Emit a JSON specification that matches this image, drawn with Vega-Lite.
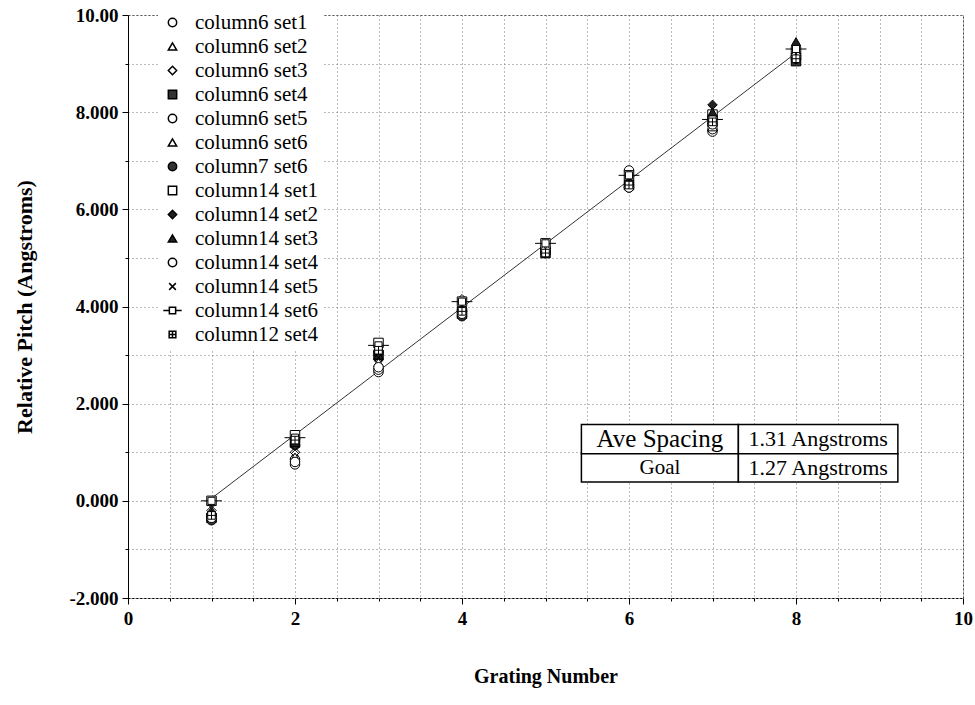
{
  "$schema": "https://vega.github.io/schema/vega-lite/v6.json",
  "width": 835,
  "height": 583,
  "autosize": {"type": "none"},
  "padding": {"left": 128, "top": 15, "right": 12, "bottom": 107},
  "background": "white",
  "config": {
    "font": "Liberation Serif",
    "view": {"stroke": "#444", "strokeDash": [2, 2], "strokeWidth": 1},
    "axis": {
      "labelFont": "Liberation Serif",
      "labelFontWeight": "bold",
      "labelFontSize": 19,
      "labelColor": "black",
      "titleFont": "Liberation Serif",
      "titleFontWeight": "bold",
      "titleFontSize": 20,
      "titleColor": "black",
      "domainColor": "black",
      "tickColor": "black",
      "gridColor": "#777",
      "gridDash": [1, 3],
      "gridWidth": 1
    }
  },
  "datasets": {
    "pts": [
      {"series": "column6 set1", "grating": 1, "pitch": -0.3},
      {"series": "column6 set2", "grating": 1, "pitch": -0.25},
      {"series": "column6 set3", "grating": 1, "pitch": -0.2},
      {"series": "column6 set4", "grating": 1, "pitch": -0.35},
      {"series": "column6 set5", "grating": 1, "pitch": -0.3},
      {"series": "column6 set6", "grating": 1, "pitch": -0.2},
      {"series": "column7 set6", "grating": 1, "pitch": -0.4},
      {"series": "column14 set1", "grating": 1, "pitch": 0.0},
      {"series": "column14 set2", "grating": 1, "pitch": -0.3},
      {"series": "column14 set3", "grating": 1, "pitch": -0.25},
      {"series": "column14 set4", "grating": 1, "pitch": -0.35},
      {"series": "column14 set5", "grating": 1, "pitch": -0.15},
      {"series": "column14 set6", "grating": 1, "pitch": 0.0},
      {"series": "column12 set4", "grating": 1, "pitch": -0.3},

      {"series": "column6 set1", "grating": 2, "pitch": 0.75},
      {"series": "column6 set2", "grating": 2, "pitch": 0.95},
      {"series": "column6 set3", "grating": 2, "pitch": 1.0},
      {"series": "column6 set4", "grating": 2, "pitch": 1.2},
      {"series": "column6 set5", "grating": 2, "pitch": 0.85},
      {"series": "column6 set6", "grating": 2, "pitch": 0.9},
      {"series": "column7 set6", "grating": 2, "pitch": 1.15},
      {"series": "column14 set1", "grating": 2, "pitch": 1.35},
      {"series": "column14 set2", "grating": 2, "pitch": 1.25},
      {"series": "column14 set3", "grating": 2, "pitch": 1.2},
      {"series": "column14 set4", "grating": 2, "pitch": 0.8},
      {"series": "column14 set5", "grating": 2, "pitch": 1.05},
      {"series": "column14 set6", "grating": 2, "pitch": 1.3},
      {"series": "column12 set4", "grating": 2, "pitch": 1.25},

      {"series": "column6 set1", "grating": 3, "pitch": 2.65},
      {"series": "column6 set2", "grating": 3, "pitch": 2.8},
      {"series": "column6 set3", "grating": 3, "pitch": 2.9},
      {"series": "column6 set4", "grating": 3, "pitch": 3.0},
      {"series": "column6 set5", "grating": 3, "pitch": 2.7},
      {"series": "column6 set6", "grating": 3, "pitch": 2.85},
      {"series": "column7 set6", "grating": 3, "pitch": 3.05},
      {"series": "column14 set1", "grating": 3, "pitch": 3.25},
      {"series": "column14 set2", "grating": 3, "pitch": 3.1},
      {"series": "column14 set3", "grating": 3, "pitch": 3.0},
      {"series": "column14 set4", "grating": 3, "pitch": 2.75},
      {"series": "column14 set5", "grating": 3, "pitch": 2.95},
      {"series": "column14 set6", "grating": 3, "pitch": 3.2},
      {"series": "column12 set4", "grating": 3, "pitch": 3.1},

      {"series": "column6 set1", "grating": 4, "pitch": 3.9},
      {"series": "column6 set2", "grating": 4, "pitch": 4.0},
      {"series": "column6 set3", "grating": 4, "pitch": 4.15},
      {"series": "column6 set4", "grating": 4, "pitch": 3.85},
      {"series": "column6 set5", "grating": 4, "pitch": 3.95},
      {"series": "column6 set6", "grating": 4, "pitch": 4.05},
      {"series": "column7 set6", "grating": 4, "pitch": 3.8},
      {"series": "column14 set1", "grating": 4, "pitch": 4.1},
      {"series": "column14 set2", "grating": 4, "pitch": 3.9},
      {"series": "column14 set3", "grating": 4, "pitch": 3.95},
      {"series": "column14 set4", "grating": 4, "pitch": 3.85},
      {"series": "column14 set5", "grating": 4, "pitch": 4.0},
      {"series": "column14 set6", "grating": 4, "pitch": 4.1},
      {"series": "column12 set4", "grating": 4, "pitch": 3.9},

      {"series": "column6 set1", "grating": 5, "pitch": 5.2},
      {"series": "column6 set2", "grating": 5, "pitch": 5.25},
      {"series": "column6 set3", "grating": 5, "pitch": 5.2},
      {"series": "column6 set4", "grating": 5, "pitch": 5.1},
      {"series": "column6 set5", "grating": 5, "pitch": 5.15},
      {"series": "column6 set6", "grating": 5, "pitch": 5.25},
      {"series": "column7 set6", "grating": 5, "pitch": 5.1},
      {"series": "column14 set1", "grating": 5, "pitch": 5.3},
      {"series": "column14 set2", "grating": 5, "pitch": 5.15},
      {"series": "column14 set3", "grating": 5, "pitch": 5.2},
      {"series": "column14 set4", "grating": 5, "pitch": 5.15},
      {"series": "column14 set5", "grating": 5, "pitch": 5.2},
      {"series": "column14 set6", "grating": 5, "pitch": 5.3},
      {"series": "column12 set4", "grating": 5, "pitch": 5.1},

      {"series": "column6 set1", "grating": 6, "pitch": 6.45},
      {"series": "column6 set2", "grating": 6, "pitch": 6.55},
      {"series": "column6 set3", "grating": 6, "pitch": 6.6},
      {"series": "column6 set4", "grating": 6, "pitch": 6.5},
      {"series": "column6 set5", "grating": 6, "pitch": 6.8},
      {"series": "column6 set6", "grating": 6, "pitch": 6.6},
      {"series": "column7 set6", "grating": 6, "pitch": 6.5},
      {"series": "column14 set1", "grating": 6, "pitch": 6.7},
      {"series": "column14 set2", "grating": 6, "pitch": 6.55},
      {"series": "column14 set3", "grating": 6, "pitch": 6.6},
      {"series": "column14 set4", "grating": 6, "pitch": 6.45},
      {"series": "column14 set5", "grating": 6, "pitch": 6.6},
      {"series": "column14 set6", "grating": 6, "pitch": 6.7},
      {"series": "column12 set4", "grating": 6, "pitch": 6.5},

      {"series": "column6 set1", "grating": 7, "pitch": 7.6},
      {"series": "column6 set2", "grating": 7, "pitch": 7.7},
      {"series": "column6 set3", "grating": 7, "pitch": 7.75},
      {"series": "column6 set4", "grating": 7, "pitch": 7.8},
      {"series": "column6 set5", "grating": 7, "pitch": 7.65},
      {"series": "column6 set6", "grating": 7, "pitch": 7.7},
      {"series": "column7 set6", "grating": 7, "pitch": 7.9},
      {"series": "column14 set1", "grating": 7, "pitch": 7.95},
      {"series": "column14 set2", "grating": 7, "pitch": 8.15},
      {"series": "column14 set3", "grating": 7, "pitch": 8.0},
      {"series": "column14 set4", "grating": 7, "pitch": 7.75},
      {"series": "column14 set5", "grating": 7, "pitch": 7.8},
      {"series": "column14 set6", "grating": 7, "pitch": 7.85},
      {"series": "column12 set4", "grating": 7, "pitch": 7.8},

      {"series": "column6 set1", "grating": 8, "pitch": 9.1},
      {"series": "column6 set2", "grating": 8, "pitch": 9.3},
      {"series": "column6 set3", "grating": 8, "pitch": 9.2},
      {"series": "column6 set4", "grating": 8, "pitch": 9.05},
      {"series": "column6 set5", "grating": 8, "pitch": 9.15},
      {"series": "column6 set6", "grating": 8, "pitch": 9.25},
      {"series": "column7 set6", "grating": 8, "pitch": 9.1},
      {"series": "column14 set1", "grating": 8, "pitch": 9.25},
      {"series": "column14 set2", "grating": 8, "pitch": 9.2},
      {"series": "column14 set3", "grating": 8, "pitch": 9.45},
      {"series": "column14 set4", "grating": 8, "pitch": 9.15},
      {"series": "column14 set5", "grating": 8, "pitch": 9.2},
      {"series": "column14 set6", "grating": 8, "pitch": 9.3},
      {"series": "column12 set4", "grating": 8, "pitch": 9.1}
    ],
    "fit": [
      {"grating": 1, "pitch": 0.05},
      {"grating": 8, "pitch": 9.22}
    ],
    "cells": [
      {"x1": 5.43, "x2": 7.31, "y1": 0.97, "y2": 1.57},
      {"x1": 7.31, "x2": 9.22, "y1": 0.97, "y2": 1.57},
      {"x1": 5.43, "x2": 7.31, "y1": 0.39, "y2": 0.97},
      {"x1": 7.31, "x2": 9.22, "y1": 0.39, "y2": 0.97}
    ],
    "celltext": [
      {"cx": 6.37, "cy": 1.27, "label": "Ave Spacing", "fs": 25},
      {"cx": 8.265, "cy": 1.27, "label": "1.31 Angstroms", "fs": 22},
      {"cx": 6.37, "cy": 0.68, "label": "Goal", "fs": 21},
      {"cx": 8.265, "cy": 0.68, "label": "1.27 Angstroms", "fs": 22}
    ]
  },
  "layer": [
    {
      "data": {"name": "fit"},
      "mark": {"type": "line", "color": "#333", "strokeWidth": 1},
      "encoding": {
        "x": {
          "field": "grating", "type": "quantitative",
          "scale": {"domain": [0, 10], "nice": false, "zero": false},
          "axis": {
            "title": "Grating Number",
            "titlePadding": 38,
            "values": [0, 0.5, 1, 1.5, 2, 2.5, 3, 3.5, 4, 4.5, 5, 5.5, 6, 6.5, 7, 7.5, 8, 8.5, 9, 9.5, 10],
            "labelExpr": "datum.value % 2 === 0 ? format(datum.value, 'd') : ''",
            "grid": true,
            "domainDash": [2, 2],
            "tickSize": {"condition": {"test": "datum.value % 2 === 0", "value": 6}, "value": 3},
            "labelPadding": 5,
            "labelFlush": false,
            "labelOverlap": false
          }
        },
        "y": {
          "field": "pitch", "type": "quantitative",
          "scale": {"domain": [-2, 10], "nice": false, "zero": false},
          "axis": {
            "title": "Relative Pitch (Angstroms)",
            "titleFontSize": 22,
            "titlePadding": 32,
            "values": [-2, -1.5, -1, -0.5, 0, 0.5, 1, 1.5, 2, 2.5, 3, 3.5, 4, 4.5, 5, 5.5, 6, 6.5, 7, 7.5, 8, 8.5, 9, 9.5, 10],
            "labelExpr": "datum.value % 2 === 0 ? (datum.value === 10 ? '10.00' : replace(format(datum.value, '.3f'), '\u2212', '-')) : ''",
            "grid": true,
            "tickSize": {"condition": {"test": "datum.value % 2 === 0", "value": 6}, "value": 3},
            "labelPadding": 4,
            "labelFlush": false,
            "labelOverlap": false
          }
        }
      }
    },
    {
      "data": {"name": "pts"},
      "mark": {"type": "point", "stroke": "black", "strokeWidth": 1, "size": 90, "opacity": 1},
      "encoding": {
        "x": {"field": "grating", "type": "quantitative"},
        "y": {"field": "pitch", "type": "quantitative"},
        "shape": {
          "field": "series", "type": "nominal",
          "scale": {
            "domain": ["column6 set1", "column6 set2", "column6 set3", "column6 set4", "column6 set5", "column6 set6", "column7 set6", "column14 set1", "column14 set2", "column14 set3", "column14 set4", "column14 set5", "column14 set6", "column12 set4"],
            "range": ["circle", "triangle-up", "diamond", "square", "circle", "triangle-up", "circle", "square", "diamond", "triangle-up", "circle", "M-0.8,-0.8L0.8,0.8M-0.8,0.8L0.8,-0.8", "M-2.2,0H-0.75M0.75,0H2.2M-0.75,-0.75H0.75V0.75H-0.75Z", "M-0.8,-0.8H0.8V0.8H-0.8ZM0,-0.8V0.8M-0.8,0H0.8"]
          },
          "legend": {
            "title": null,
            "orient": "none",
            "legendX": 30,
            "legendY": -7,
            "labelFont": "Liberation Serif",
            "labelFontSize": 21,
            "labelColor": "black",
            "rowPadding": 2,
            "symbolSize": 70,
            "labelOffset": 12,
            "fillColor": "white",
            "padding": 4,
            "encode": {
              "symbols": {
                "update": {
                  "stroke": {"value": "black"},
                  "strokeWidth": {"value": 1},
                  "opacity": {"value": 1}
                }
              }
            }
          }
        },
        "fill": {
          "field": "series", "type": "nominal",
          "scale": {
            "domain": ["column6 set1", "column6 set2", "column6 set3", "column6 set4", "column6 set5", "column6 set6", "column7 set6", "column14 set1", "column14 set2", "column14 set3", "column14 set4", "column14 set5", "column14 set6", "column12 set4"],
            "range": ["white", "white", "white", "#333", "white", "white", "#333", "white", "#222", "#222", "white", "white", "white", "white"]
          }
        }
      }
    },
    {
      "data": {"name": "cells"},
      "mark": {"type": "rect", "fill": "white", "stroke": "black", "strokeWidth": 1.5},
      "encoding": {
        "x": {"field": "x1", "type": "quantitative"},
        "x2": {"field": "x2"},
        "y": {"field": "y1", "type": "quantitative"},
        "y2": {"field": "y2"}
      }
    },
    {
      "data": {"name": "celltext"},
      "mark": {"type": "text", "font": "Liberation Serif", "color": "black", "align": "center", "baseline": "middle"},
      "encoding": {
        "x": {"field": "cx", "type": "quantitative"},
        "y": {"field": "cy", "type": "quantitative"},
        "text": {"field": "label"},
        "size": {"field": "fs", "type": "quantitative", "scale": null}
      }
    }
  ]
}
